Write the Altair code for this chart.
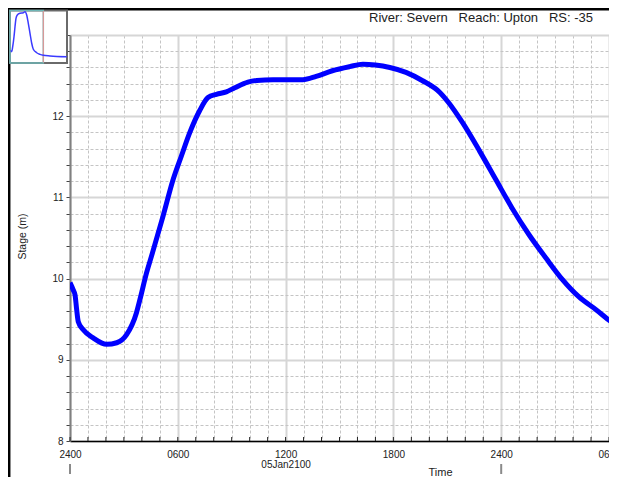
import altair as alt
import pandas as pd

# ---- main hydrograph (hours after 2400 04Jan2100, stage in m) ----
time_h = [0.0, 0.18, 0.28, 0.37, 0.46, 0.74, 1.29, 2.04, 2.6, 3.15, 3.7, 3.89, 4.26,
          4.54, 5.18, 5.74, 6.2, 6.67, 7.22, 7.68, 8.15, 8.7, 9.17, 9.9, 10.4, 11.3,
          12.96, 13.7, 14.6, 15.56, 16.3, 17.0, 17.8, 18.7, 19.6, 20.6, 21.1, 21.85,
          22.8, 23.7, 24.6, 25.55, 26.5, 27.4, 28.3, 29.26, 30.4, 31.0]
stage_m = [9.95, 9.86, 9.80, 9.62, 9.47, 9.37, 9.27, 9.19, 9.21, 9.31, 9.58, 9.74, 10.07,
           10.28, 10.77, 11.22, 11.51, 11.80, 12.07, 12.23, 12.27, 12.30, 12.35, 12.42, 12.44, 12.45,
           12.45, 12.49, 12.56, 12.61, 12.64, 12.63, 12.60, 12.54, 12.44, 12.29, 12.16, 11.92,
           11.57, 11.22, 10.87, 10.54, 10.25, 9.99, 9.78, 9.62, 9.43, 9.38]

# ---- overview inset (whole event) ----
inset_time_h = [0.0, 0.7, 1.7, 3.0, 4.0, 5.0, 6.3, 9.0, 12.3, 14.0, 15.7, 17.3, 19.0,
                20.7, 22.3, 25.7, 29.0, 32.3, 39.0, 55.7]
inset_stage_m = [9.75, 9.65, 10.02, 10.77, 11.52, 12.15, 12.40, 12.53, 12.57, 12.65, 12.40, 11.78, 11.03,
                 10.28, 9.83, 9.57, 9.45, 9.38, 9.33, 9.27]
inset_marker_h = [32.3]

x_tick_hours = list(range(0, 31))
y_tick_values = [round(8 + 0.2 * i, 1) for i in range(26)]
day_marks = [0, 24]

NB = "\u00a0"
header = "River: Severn" + NB * 3 + "Reach: Upton" + NB * 3 + "RS: -35"
FONT = "Liberation Sans"

df = pd.DataFrame({"t": time_h, "stage": stage_m})
df_inset = pd.DataFrame({"t": inset_time_h, "stage": inset_stage_m})
one = pd.DataFrame({"a": [0]})

XDOM = [0, 30]
YDOM = [8, 13]
W = 539
H = 406

x_axis = alt.Axis(
    values=x_tick_hours,
    labelExpr="datum.value % 6 != 0 ? '' : (datum.value == 12 ? ['1200', '05Jan2100'] : ['2400','0600','1200','1800'][(datum.value / 6) % 4])",
    labelFont=FONT, labelFontSize=10, labelColor="#222", labelLineHeight=10,
    labelPadding=8, labelOverlap=False, labelFlush=False,
    ticks=False,
    domainColor="#000", domainWidth=1.5,
    grid=True,
    gridColor={"condition": {"test": "datum.value % 6 != 0", "value": "#c4c4c4"}, "value": "#d6d6d6"},
    gridDash={"condition": {"test": "datum.value % 6 != 0", "value": [3, 2]}, "value": [1, 0]},
    gridWidth={"condition": {"test": "datum.value % 6 != 0", "value": 1}, "value": 2},
    title="Time", titleFont=FONT, titleFontSize=11, titleFontWeight="normal", titleColor="#222",
    titleX=370, titleY=34, titleBaseline="alphabetic", titleAlign="center",
)

y_axis = alt.Axis(
    values=y_tick_values,
    labelExpr="abs(datum.value - round(datum.value)) < 0.01 && datum.value < 12.5 ? format(datum.value, 'd') : ''",
    labelFont=FONT, labelFontSize=10, labelColor="#222", labelPadding=3,
    labelOverlap=False, labelFlush=False,
    tickSize=4, tickColor="#444",
    domainColor="#808080", domainWidth=2,
    grid=True,
    gridColor={"condition": {"test": "abs(datum.value - round(datum.value)) > 0.01", "value": "#c4c4c4"}, "value": "#d6d6d6"},
    gridDash={"condition": {"test": "abs(datum.value - round(datum.value)) > 0.01", "value": [3, 2]}, "value": [1, 0]},
    gridWidth={"condition": {"test": "abs(datum.value - round(datum.value)) > 0.01", "value": 1}, "value": 2},
    title="Stage (m)", titleFont=FONT, titleFontSize=10.5, titleFontWeight="normal", titleColor="#222",
    titleX=-45, titleY=201, titleAngle=270, titleBaseline="alphabetic", titleAlign="center",
)

curve = alt.Chart(df).mark_line(color="#0000ff", strokeWidth=5, interpolate="monotone", clip=True).encode(
    x=alt.X("t:Q", scale=alt.Scale(domain=XDOM, nice=False, zero=False), axis=x_axis),
    y=alt.Y("stage:Q", scale=alt.Scale(domain=YDOM, nice=False, zero=False), axis=y_axis),
)

hour_ticks = alt.Chart(pd.DataFrame({"h": x_tick_hours})).mark_rule(color="#222", strokeWidth=1).encode(
    x=alt.X("h:Q", scale=alt.Scale(domain=XDOM, nice=False, zero=False), axis=None),
    y=alt.value(H - 4), y2=alt.value(H),
)

day_ticks = alt.Chart(pd.DataFrame({"d": day_marks})).mark_rule(color="#8a8a8a", strokeWidth=2).encode(
    x=alt.X("d:Q", scale=alt.Scale(domain=XDOM, nice=False, zero=False), axis=None),
    y=alt.value(429), y2=alt.value(439),
)

left_border = alt.Chart(one).mark_rule(color="#000", strokeWidth=2.5).encode(
    x=alt.value(-60.8), y=alt.value(-27), y2=alt.value(442))
top_border = alt.Chart(one).mark_rule(color="#000", strokeWidth=2.5).encode(
    x=alt.value(-62), x2=alt.value(W), y=alt.value(-25.8))

header_text = alt.Chart(one).mark_text(font=FONT, fontSize=13, color="#222", align="right",
                                       baseline="alphabetic").encode(
    x=alt.value(523), y=alt.value(-13.5), text=alt.value(header))

inset_box = alt.Chart(one).mark_rect(fill="white", stroke="#6a6a6a", strokeWidth=2).encode(
    x=alt.value(-60), x2=alt.value(-3), y=alt.value(-24.5), y2=alt.value(28))
inset_view = alt.Chart(one).mark_rect(fill=None, stroke="#6fb7b7", strokeWidth=1.5).encode(
    x=alt.value(-60), x2=alt.value(-26.7), y=alt.value(-24.5), y2=alt.value(28))

ISX = alt.Scale(domain=[-1, 56], range=[-60, -3], nice=False, zero=False)
ISY = alt.Scale(domain=[8.8, 13.0], range=[28, -28], nice=False, zero=False)

inset_marker = alt.Chart(pd.DataFrame({"m": inset_marker_h})).mark_rule(color="#f29090", strokeWidth=1).encode(
    x=alt.X("m:Q", scale=ISX, axis=None), y=alt.value(-24), y2=alt.value(27.5))

inset_curve = alt.Chart(df_inset).mark_line(color="#3a3aff", strokeWidth=1.5, interpolate="monotone").encode(
    x=alt.X("t:Q", scale=ISX, axis=None),
    y=alt.Y("stage:Q", scale=ISY, axis=None),
)

chart = alt.layer(
    curve, hour_ticks, day_ticks, left_border, top_border, header_text,
    inset_box, inset_view, inset_marker, inset_curve,
).resolve_scale(x="independent", y="independent").properties(
    width=W, height=H,
    autosize=alt.AutoSizeParams(type="none"),
    padding={"left": 62, "top": 27, "right": 0, "bottom": 36},
    background="white",
).configure_view(stroke=None)

chart.save("out.html", embed_options={"renderer": "svg", "actions": False})
